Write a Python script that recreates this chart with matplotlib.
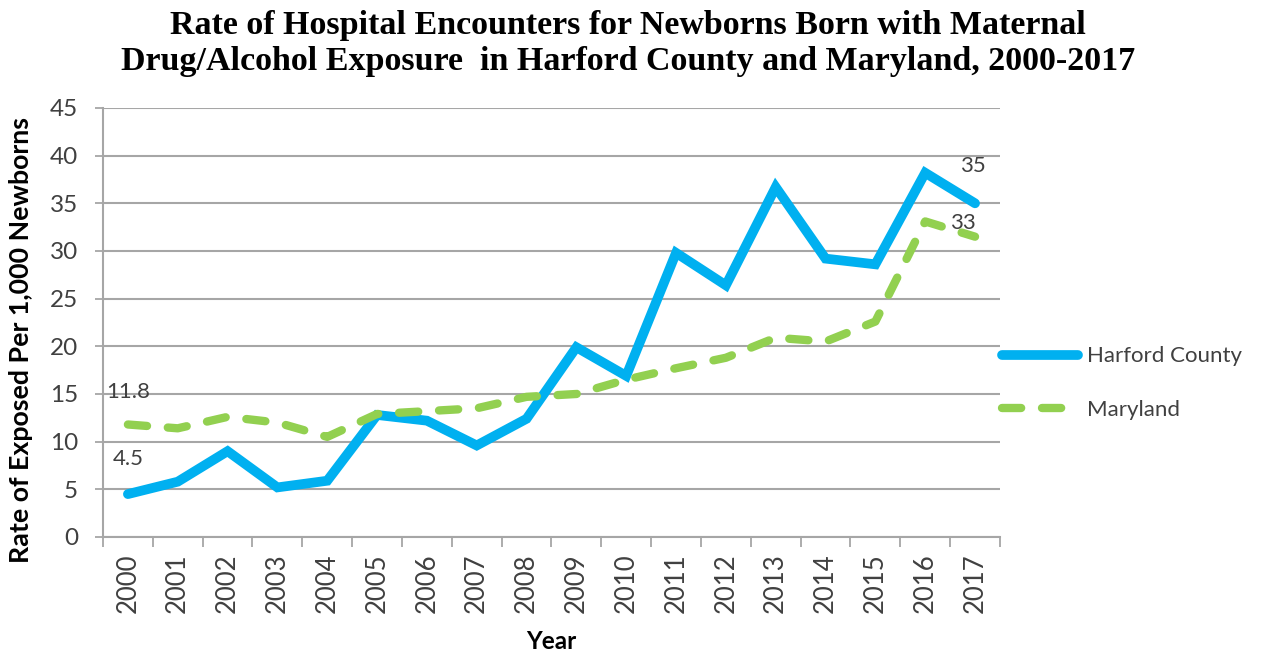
import matplotlib.pyplot as plt
import numpy as np

# data
years = [str(y) for y in range(2000, 2018)]
harford = [4.5, 5.8, 9.0, 5.2, 5.9, 12.8, 12.2, 9.6, 12.4, 19.9,
           16.9, 29.8, 26.4, 36.7, 29.2, 28.6, 38.2, 35.0]
maryland = [11.8, 11.4, 12.6, 12.0, 10.5, 12.9, 13.2, 13.5, 14.7, 15.0,
            16.5, 17.7, 18.8, 20.9, 20.5, 22.6, 33.1, 31.5]
y_ticks = list(range(0, 50, 5))

blue = '#00B0F0'
green = '#92D050'
grid_col = '#A6A6A6'
text_col = '#404040'

fig = plt.figure(figsize=(12.81, 6.52), dpi=100)
ax = fig.add_axes([0.0804, 0.1764, 0.7002, 0.658])

x = np.arange(len(years))
ax.plot(x, harford, color=blue, linewidth=7, solid_capstyle='round',
        solid_joinstyle='miter', label='Harford County', zorder=3)
ax.plot(x, maryland, color=green, linewidth=6, linestyle=(0, (2.3, 2.5)),
        dash_capstyle='round', label='Maryland', zorder=3)

ax.set_xlim(-0.5, len(years) - 0.5)
ax.set_ylim(0, 45)
ax.set_yticks(y_ticks)
ax.set_yticklabels([str(v) for v in y_ticks], fontsize=17.5, color=text_col,
                   family='Lato')
ax.set_xticks(x)
ax.set_xticklabels(years, rotation=90, fontsize=18.5, color=text_col,
                   family='Lato')
ax.set_xticks(np.arange(-0.5, len(years)), minor=True)
ax.tick_params(axis='x', which='major', length=0, pad=12)
ax.tick_params(axis='x', which='minor', length=7, color=grid_col, width=1.3)
ax.tick_params(axis='y', length=6, color=grid_col, width=1.3, pad=12)

ax.grid(axis='y', color=grid_col, linewidth=1.5, zorder=0)
ax.set_axisbelow(True)
for s in ['top', 'right']:
    ax.spines[s].set_visible(False)
for s in ['left', 'bottom']:
    ax.spines[s].set_color(grid_col)
    ax.spines[s].set_linewidth(1.5)

# data labels
lab_kw = dict(fontsize=16, color=text_col, family='Lato')
ax.annotate('4.5', (x[0], harford[0]), xytext=(0, 18), textcoords='offset points',
            ha='center', va='bottom', **lab_kw)
ax.annotate('11.8', (x[0], maryland[0]), xytext=(0, 16), textcoords='offset points',
            ha='center', va='bottom', **lab_kw)
ax.annotate('35', (x[-1], harford[-1]), xytext=(-1.5, 20), textcoords='offset points',
            ha='center', va='bottom', **lab_kw)
ax.annotate('33', (x[-1], maryland[-1]), xytext=(-9, 3), textcoords='offset points',
            ha='center', va='bottom', **lab_kw)

ax.set_ylabel('Rate of Exposed Per 1,000 Newborns', fontsize=19.3, fontweight='bold',
              family='Lato', color='black')
ax.yaxis.set_label_coords(-0.078, 0.459)
ax.set_xlabel('Year', fontsize=17.5, fontweight='bold', family='Lato', color='black',
              labelpad=12)

fig.suptitle('Rate of Hospital Encounters for Newborns Born with Maternal\n'
             'Drug/Alcohol Exposure  in Harford County and Maryland, 2000-2017',
             x=0.49, y=0.985, fontsize=24.5, fontweight='bold',
             family='Liberation Serif', linespacing=1.2)

ax.legend(loc='center left', bbox_to_anchor=(1.0, 0.359), frameon=False,
          handlelength=3.4, handletextpad=0.4, labelspacing=1.5,
          borderaxespad=0, borderpad=0.1,
          prop={'family': 'Lato', 'size': 16}, labelcolor=text_col)

fig.savefig('out.png', dpi=100)
